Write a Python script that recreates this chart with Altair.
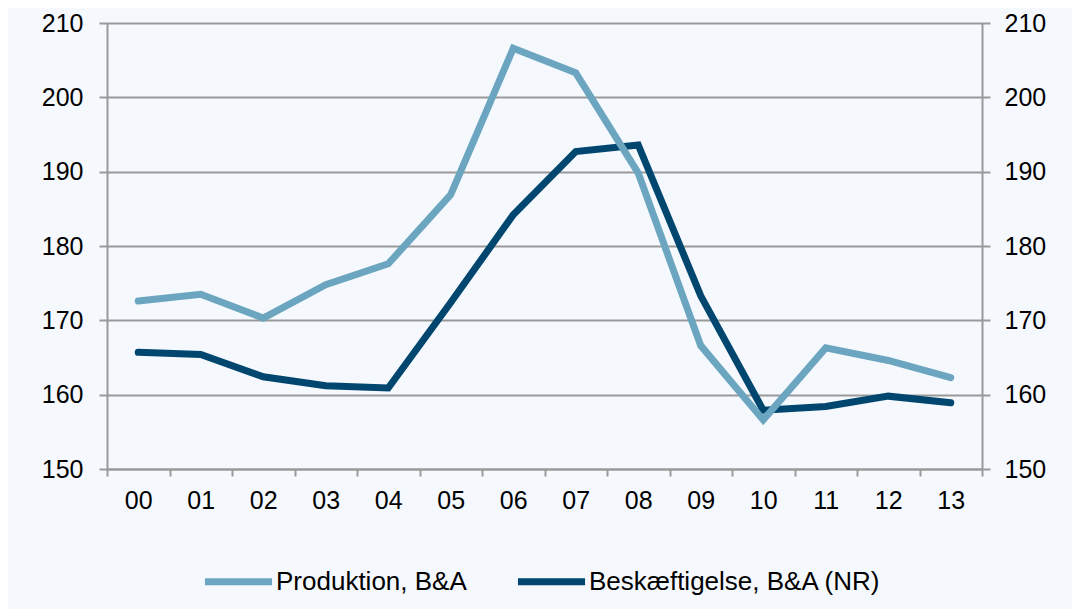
import altair as alt
import pandas as pd

years = ["00", "01", "02", "03", "04", "05", "06", "07", "08", "09", "10", "11", "12", "13"]
produktion = [172.6, 173.5, 170.3, 174.8, 177.6, 186.9, 206.6, 203.3, 189.8, 166.6, 156.6, 166.3, 164.6, 162.3]
beskaeftigelse = [165.7, 165.4, 162.4, 161.2, 160.9, 172.4, 184.2, 192.7, 193.6, 173.3, 157.9, 158.4, 159.8, 158.9]

s1 = "Produktion, B&A"
s2 = "Beskæftigelse, B&A (NR)"

df1 = pd.DataFrame({"year": years, "value": produktion, "series": s1})
df2 = pd.DataFrame({"year": years, "value": beskaeftigelse, "series": s2})

LIGHT = "#6BA5C0"
DARK = "#00466F"
GRID = "#999999"
FONT = "Liberation Sans"
FS = 25

color_scale = alt.Scale(domain=[s1, s2], range=[LIGHT, DARK])
yscale = alt.Scale(domain=[150, 210], nice=False, zero=False)
xscale = alt.Scale(type="band", paddingInner=0, paddingOuter=0)

xenc = alt.X(
    "year:N", sort=years, scale=xscale, bandPosition=0.5,
    axis=alt.Axis(title=None, labelAngle=0, tickBand="extent", grid=False,
                  domainColor=GRID, domainWidth=2, tickColor=GRID, tickWidth=2,
                  tickSize=7, labelPadding=12, labelFontSize=FS, labelFont=FONT,
                  labelColor="#000000"),
)

legend = alt.Legend(
    title=None, orient="none", direction="horizontal", legendX=94, legendY=521,
    symbolType="stroke", symbolSize=4500, symbolStrokeWidth=7,
    labelFontSize=26, labelFont=FONT, labelColor="#000000", labelOffset=0,
    labelLimit=0, columnPadding=36, padding=0,
)

dark_line = alt.Chart(df2).mark_line(strokeWidth=7, strokeCap="round").encode(
    x=xenc,
    y=alt.Y("value:Q", scale=yscale,
            axis=alt.Axis(title=None, orient="left", values=[150, 160, 170, 180, 190, 200, 210],
                          grid=True, gridColor=GRID, gridWidth=2,
                          domainColor=GRID, domainWidth=2, tickColor=GRID, tickWidth=2,
                          tickSize=8, labelPadding=16, labelFontSize=FS, labelFont=FONT,
                          labelColor="#000000")),
    color=alt.Color("series:N", scale=color_scale, legend=legend),
)

light_line = alt.Chart(df1).mark_line(strokeWidth=7, strokeCap="round").encode(
    x=xenc,
    y=alt.Y("value:Q", scale=yscale,
            axis=alt.Axis(title=None, orient="right", values=[150, 160, 170, 180, 190, 200, 210],
                          grid=False,
                          domainColor=GRID, domainWidth=2, tickColor=GRID, tickWidth=2,
                          tickSize=8, labelPadding=14, labelFontSize=FS, labelFont=FONT,
                          labelColor="#000000")),
    color=alt.Color("series:N", scale=color_scale, legend=legend),
)

chart = (
    alt.layer(dark_line, light_line)
    .resolve_axis(y="independent")
    .properties(
        width=875, height=446,
        autosize=alt.AutoSizeParams(type="none"),
        padding={"left": 99, "top": 15, "right": 90, "bottom": 140},
        background="#F5F9FE",
    )
    .configure_view(stroke=None, fill="#F5F9FE")
)

chart.save("out.html", embed_options={"renderer": "svg", "actions": False})
